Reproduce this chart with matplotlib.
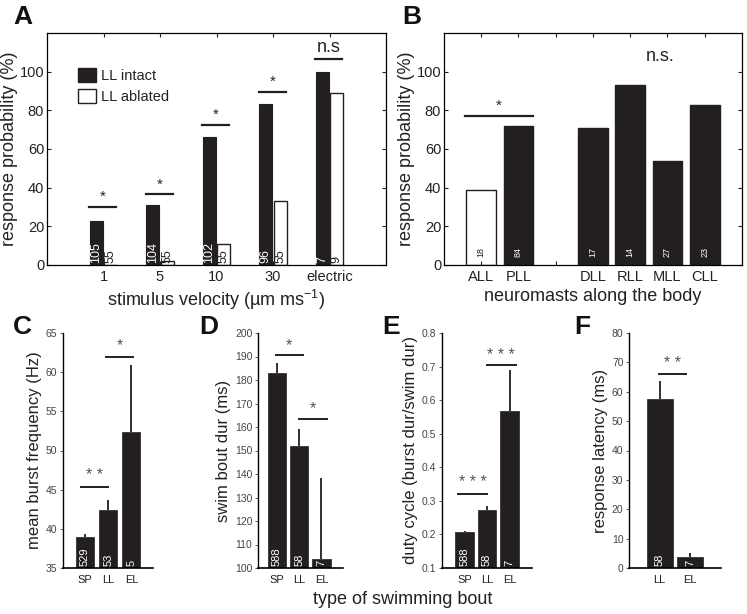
import numpy as np
import matplotlib
matplotlib.use("Agg")
import matplotlib.pyplot as plt
from matplotlib.patches import Patch

plt.rcParams["font.family"] = ["Liberation Sans", "DejaVu Sans"]
plt.rcParams["mathtext.fontset"] = "custom"
plt.rcParams["mathtext.rm"] = "Liberation Sans"
plt.rcParams["mathtext.it"] = "Liberation Sans:italic"
plt.rcParams["text.color"] = "#222222"
plt.rcParams["axes.labelcolor"] = "#222222"
plt.rcParams["xtick.color"] = "#222222"
plt.rcParams["ytick.color"] = "#222222"

BLACK = "#231f20"
GREY = "#555555"

# panel A
velocity = ["1", "5", "10", "30", "electric"]
intact = [23, 31, 66, 83.5, 100]
ablated = [0, 2, 11, 33, 89]
n_intact = [105, 104, 102, 96, 7]
n_ablated = [55, 55, 55, 55, 9]
sig_A = [(30, "*"), (36.5, "*"), (72.5, "*"), (89.5, "*"), (106.5, "n.s")]

# panel B
neuromasts = ["ALL", "PLL", "", "DLL", "RLL", "MLL", "CLL"]
nm_prob = [39, 72, np.nan, 71, 93, 54, 83]
nm_n = ["18", "84", "", "17", "14", "27", "23"]

# panels C-F
bouts = ["SP", "LL", "EL"]
burst_freq = [39.0, 42.4, 52.4]
burst_err = [0.4, 1.3, 8.5]
burst_n = [529, 53, 5]
bout_dur = [183.1, 152.0, 103.7]
bout_err = [4.3, 7.1, 34.5]
bout_n = [588, 58, 7]
duty = [0.206, 0.273, 0.567]
duty_err = [0.005, 0.012, 0.123]
duty_n = [588, 58, 7]
lat_types = ["LL", "EL"]
latency = [57.5, 3.7]
lat_err = [6.0, 1.3]
lat_n = [58, 7]

W, H = 747, 614
fig = plt.figure(figsize=(W / 100, H / 100), dpi=100)


def px_axes(x0, x1, ytop, ybot):
    return fig.add_axes([x0 / W, 1 - ybot / H, (x1 - x0) / W, (ybot - ytop) / H])


# ---------------- A
ax = px_axes(47, 386, 33, 265)
x = np.arange(1, len(velocity) + 1)
ax.bar(x - 0.13, intact, 0.23, color=BLACK, edgecolor=BLACK, lw=0.8)
ax.bar(x + 0.13, ablated, 0.23, color="white", edgecolor=BLACK, lw=1.0)
for i in range(len(velocity)):
    ax.text(x[i] - 0.13, 1, str(n_intact[i]), rotation=90, color="white",
            ha="center", va="bottom", fontsize=9)
    ax.text(x[i] + 0.13, 1, str(n_ablated[i]), rotation=90, color=BLACK,
            ha="center", va="bottom", fontsize=9)
    yl, lab = sig_A[i]
    ax.plot([x[i] - 0.25, x[i] + 0.23], [yl, yl], color=BLACK, lw=1.6)
    if lab == "*":
        ax.text(x[i] - 0.01, yl + 1.5, lab, ha="center", va="bottom", fontsize=11)
    else:
        ax.text(x[i] - 0.01, yl + 1.5, lab, ha="center", va="bottom", fontsize=13)
ax.set_xlim(0, 6)
ax.set_ylim(0, 120)
ax.set_xticks(x)
ax.set_xticklabels(velocity, fontsize=10.5)
ax.set_yticks(np.arange(0, 101, 20))
ax.tick_params(axis="y", labelsize=10.5, pad=2)
ax.tick_params(direction="in", top=True, right=True, length=3, width=0.8)
ax.set_ylabel("response probability (%)", fontsize=13, labelpad=1)
ax.set_xlabel("stimulus velocity (µm ms$^{-1}$)", fontsize=13, labelpad=3)
ax.legend(handles=[Patch(facecolor=BLACK, edgecolor=BLACK, label="LL intact"),
                   Patch(facecolor="white", edgecolor=BLACK, label="LL ablated")],
          loc="upper left", bbox_to_anchor=(0.07, 0.88), frameon=False,
          fontsize=10.5, borderpad=0, handlelength=1.2, handleheight=1.1,
          handletextpad=0.35, labelspacing=0.4)
for s in ax.spines.values():
    s.set_linewidth(0.9)

# ---------------- B
ax = px_axes(444, 742, 33, 265)
xb = np.arange(1, len(neuromasts) + 1)
colors = ["white"] + [BLACK] * (len(neuromasts) - 1)
ax.bar(xb, nm_prob, 0.8, color=colors, edgecolor=BLACK, lw=1.0)
for i in range(len(neuromasts)):
    ax.text(xb[i], 4, nm_n[i], rotation=90, ha="center", va="bottom", fontsize=6.5,
            color=BLACK if colors[i] == "white" else "white")
ax.plot([0.56, 2.4], [77, 77], color=BLACK, lw=1.6)
ax.text(1.48, 78.5, "*", ha="center", va="bottom", fontsize=11)
ax.text(5.8, 108, "n.s.", ha="center", va="center", fontsize=13)
ax.set_xlim(0, 8)
ax.set_ylim(0, 120)
ax.set_xticks(xb)
ax.set_xticklabels(neuromasts, fontsize=10.5)
ax.set_yticks(np.arange(0, 101, 20))
ax.tick_params(axis="y", labelsize=10.5, pad=2)
ax.tick_params(direction="in", top=True, right=True, length=3, width=0.8)
ax.set_ylabel("response probability (%)", fontsize=13, labelpad=1)
ax.set_xlabel("neuromasts along the body", fontsize=13, labelpad=3)
for s in ax.spines.values():
    s.set_linewidth(0.9)


# ---------------- C-F
def small_panel(box, xlim, cats, vals, errs, ns, ylim, yticks, ylabel, sigs,
                width=0.82, fmt=None):
    ax = px_axes(*box)
    xs = np.arange(1, len(cats) + 1)
    ax.bar(xs, vals, width, bottom=0, color=BLACK, edgecolor=BLACK, lw=0.5)
    ax.errorbar(xs, vals, yerr=[np.zeros(len(errs)), errs], fmt="none",
                ecolor=BLACK, elinewidth=1.3, capsize=0)
    for xi, n in zip(xs, ns):
        ax.text(xi, ylim[0] + (ylim[1] - ylim[0]) * 0.008, str(n), rotation=90,
                color="white", ha="center", va="bottom", fontsize=8)
    for (xa, xb_, yl, ys, lab) in sigs:
        ax.plot([xa, xb_], [yl, yl], color=BLACK, lw=1.4)
        ax.text((xa + xb_) / 2, ys, lab, ha="center", va="center",
                fontsize=11.5, color=GREY)
    ax.set_xlim(*xlim)
    ax.set_ylim(*ylim)
    ax.set_xticks(xs)
    ax.set_xticklabels(cats, fontsize=8)
    ax.set_yticks(yticks)
    if fmt:
        ax.set_yticklabels([fmt % t for t in yticks])
    ax.tick_params(axis="y", labelsize=7.5, length=2, width=0.6, colors="#444444",
                   pad=2)
    ax.tick_params(axis="x", length=0, pad=5)
    for s in ["top", "right"]:
        ax.spines[s].set_visible(False)
    ax.spines["left"].set_linewidth(1.0)
    ax.spines["bottom"].set_linewidth(1.2)
    ax.set_ylabel(ylabel, fontsize=12, labelpad=3)
    return ax


small_panel((63, 153, 333, 568), (0.05, 3.93), bouts, burst_freq, burst_err, burst_n,
            (35, 65), np.arange(35, 66, 5), "mean burst frequency (Hz)",
            [(0.83, 1.99, 45.3, 46.8, "* *"), (1.91, 3.07, 62.0, 63.4, "*")],
            width=0.78)
small_panel((258, 343, 333, 568), (0.15, 3.97), bouts, bout_dur, bout_err, bout_n,
            (100, 200), np.arange(100, 201, 10), "swim bout dur (ms)",
            [(0.94, 2.15, 190.6, 194.6, "*"), (2.0, 3.23, 163.4, 167.6, "*")])
small_panel((442, 532, 333, 568), (0, 4), bouts, duty, duty_err, duty_n,
            (0.1, 0.8), np.arange(0.1, 0.81, 0.1), "duty cycle (burst dur/swim dur)",
            [(0.73, 2.0, 0.319, 0.354, "* * *"), (2.0, 3.27, 0.705, 0.734, "* * *")],
            fmt="%.1f")
small_panel((629, 721, 333, 568), (0, 3), lat_types, latency, lat_err, lat_n,
            (0, 80), np.arange(0, 81, 10), "response latency (ms)",
            [(0.98, 1.87, 66, 69.6, "* *")], width=0.84)

fig.text(403 / W, 1 - 600 / H, "type of swimming bout", ha="center", va="center",
         fontsize=13)

for lab, xp, yp in [("A", 13, 5), ("B", 402, 5), ("C", 13, 315), ("D", 199, 315),
                    ("E", 382, 315), ("F", 574, 315)]:
    fig.text(xp / W, 1 - yp / H, lab, fontsize=19, fontweight="bold",
             ha="left", va="top", color="#111111")

fig.savefig("out.png", dpi=100)
